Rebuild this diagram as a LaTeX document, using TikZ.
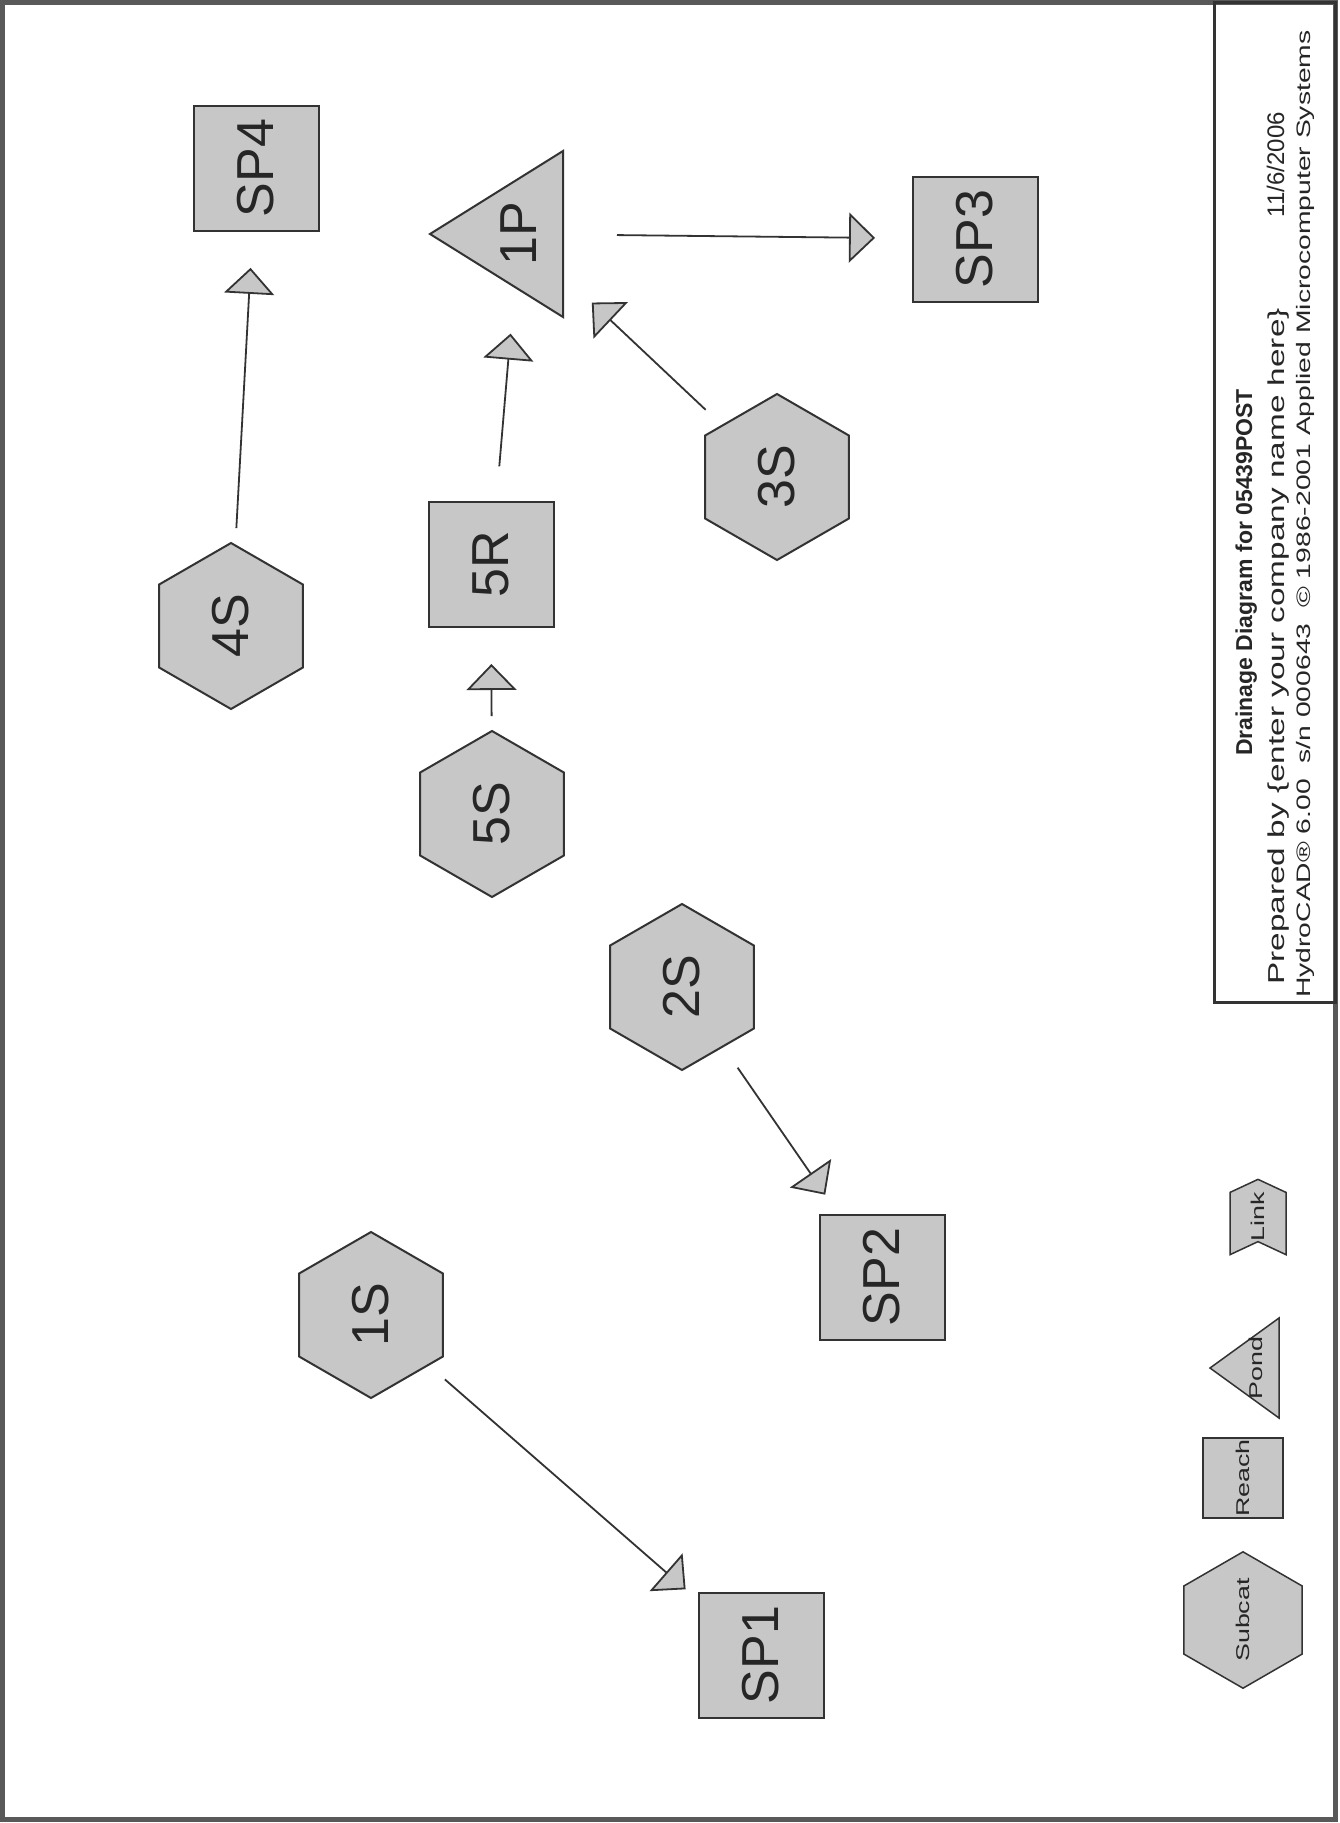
\documentclass[tikz,border=0pt]{standalone}
\usepackage{fontspec}
\setmainfont{Liberation Sans}
\newfontfamily\widefont[FakeStretch=1.45]{Liberation Sans}
\usetikzlibrary{shapes.geometric, shapes.symbols, arrows.meta, positioning, calc}

\newcommand{\bigfont}{\fontsize{52}{60}\selectfont}
\newcommand{\legendfont}{\widefont\fontsize{18.5}{22}\selectfont}

\begin{document}
\begin{tikzpicture}[x=1pt, y=-1pt,
  hcshape/.style={draw=black!80, line width=2pt, fill=black!22, text=black!85, inner sep=0pt, rotate=90},
  subcat/.style={hcshape, regular polygon, regular polygon sides=6, minimum size=166pt, font=\bigfont},
  reach/.style={hcshape, rectangle, minimum width=125pt, minimum height=125pt, font=\bigfont},
  pondfill/.style={draw=black!80, line width=2pt, fill=black!22},
  pondtext/.style={rotate=90, inner sep=0pt, text=black!85, font=\bigfont},
  flow/.style={line width=1.8pt, draw=black!80, -{Triangle[length=26pt, width=50pt, fill=black!22]}, shorten <=98pt, shorten >=100pt},
  title/.style={rotate=90, anchor=base west, inner sep=0pt, text=black!85}
]
\useasboundingbox (0,0) rectangle (1340,1823);
\fill[white] (0,0) rectangle (1340,1823);
% page frame and title block
\draw[black!65, line width=5pt] (2.5,2.5) rectangle (1335,1819);
\draw[black!80, line width=3pt] (1214,2.5) rectangle (1335,1002);

% subcatchments
\node[subcat] (sub1) at (371,1315) {1S};
\node[subcat] (sub2) at (682,987) {2S};
\node[subcat] (sub3) at (777,477) {3S};
\node[subcat] (sub4) at (231,626) {4S};
\node[subcat] (sub5) at (492,814) {5S};

% reaches
\node[reach] (reach5) at (491,564) {5R};
\node[reach] (sp1) at (761,1655) {SP1};
\node[reach] (sp2) at (882,1277) {SP2};
\node[reach] (sp3) at (975,239) {SP3};
\node[reach] (sp4) at (256,168) {SP4};

% pond
\coordinate (pc) at (519,234);
\filldraw[pondfill] (pc) ++(-89,0) -- ++(133,-83) -- ++(0,166) -- cycle;
\node[pondtext] (pond1) at (pc) {1P};

% routing, center to center
\draw[flow] (sub4.center) -- (sp4.center);
\draw[flow] (sub5.center) -- (reach5.center);
\draw[flow] (reach5.center) -- (pond1.center);
\draw[flow] (sub3.center) -- (pond1.center);
\draw[flow] (pond1.center) -- (sp3.center);
\draw[flow] (sub2.center) -- (sp2.center);
\draw[flow] (sub1.center) -- (sp1.center);

% legend
\node[hcshape, signal, signal from=west, signal to=east, signal pointer angle=130, minimum width=74pt, minimum height=56pt, line width=1.5pt, font=\legendfont] (llink) at (1258,1217) {Link};
\coordinate (lpc) at (1256,1368);
\filldraw[pondfill, line width=1.5pt] (lpc) ++(-46,0) -- ++(69,-50) -- ++(0,100) -- cycle;
\node[pondtext, font=\legendfont] (lpond) at (lpc) {Pond};
\node[reach, minimum width=80pt, minimum height=80pt, line width=1.5pt, font=\legendfont] (lreach) at (1243,1478) {Reach};
\node[subcat, minimum size=94pt, line width=1.5pt, font=\legendfont] (lsub) at (1243,1620) {Subcat};

% title block text
\node[title, font=\fontsize{23}{27}\selectfont\bfseries] (ttl) at (1252,756) {Drainage Diagram for 05439POST};
\node[title, font=\widefont\fontsize{23}{27}\selectfont] (prep) at (1284,985) {Prepared by \{enter your company name here\}};
\node[title, anchor=base east, font=\fontsize{24}{28}\selectfont] (date) at (1284,112) {11/6/2006};
\node[title, font=\widefont\fontsize{19.5}{23}\selectfont] (soft) at (1310,998) {HydroCAD® 6.00\ \ s/n 000643\ \ © 1986-2001 Applied Microcomputer Systems};
\end{tikzpicture}
\end{document}
